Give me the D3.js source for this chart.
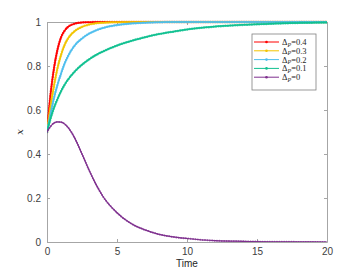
<!DOCTYPE html>
<html>
<head>
<meta charset="utf-8">
<script src="https://cdn.jsdelivr.net/npm/d3@7"></script>
<style>
  body { margin: 0; background: #fff; }
  svg { display: block; }
</style>
</head>
<body>
<svg id="chart" width="355" height="280"></svg>
<script>
// time grid the values were read at
var timeGrid = [0, 0.25, 0.5, 0.75, 1, 1.25, 1.5, 2, 2.5, 3, 3.5, 4, 5, 6, 7, 8, 9, 10, 12, 14, 16, 18, 20]

var dp04 = [0.5, 0.67, 0.79, 0.875, 0.93, 0.96, 0.978, 0.993, 0.998, 0.999, 1, 1, 1, 1, 1, 1, 1, 1, 1, 1, 1, 1, 1]
var dp03 = [0.5, 0.615, 0.71, 0.79, 0.85, 0.895, 0.925, 0.96, 0.978, 0.988, 0.994, 0.997, 0.999, 1, 1, 1, 1, 1, 1, 1, 1, 1, 1]
var dp02 = [0.5, 0.58, 0.655, 0.715, 0.765, 0.81, 0.845, 0.895, 0.925, 0.947, 0.962, 0.973, 0.986, 0.993, 0.997, 0.999, 1, 1, 1, 1, 1, 1, 1]
var dp01 = [0.5, 0.56, 0.61, 0.65, 0.685, 0.714, 0.738, 0.776, 0.806, 0.83, 0.85, 0.866, 0.893, 0.914, 0.931, 0.945, 0.956, 0.966, 0.979, 0.987, 0.992, 0.996, 0.998]
var dp00 = [0.5, 0.525, 0.541, 0.546, 0.545, 0.537, 0.521, 0.47, 0.4, 0.327, 0.262, 0.207, 0.133, 0.084, 0.055, 0.035, 0.023, 0.016, 0.006, 0.003, 0.001, 0.0005, 0]

var seriesNames = ['0.4', '0.3', '0.2', '0.1', '0']
var seriesColors = ['#ff0000', '#f2c400', '#4dbeee', '#10c090', '#7e2f8e']
var seriesValues = [dp04, dp03, dp02, dp01, dp00]

var xTicks = [0, 5, 10, 15, 20]
var yTicks = [0, 0.2, 0.4, 0.6, 0.8, 1]

var W = 355, H = 280
var m = {left: 47, right: 28, top: 22, bottom: 38}

var svg = d3.select('#chart')
var x = d3.scaleLinear().domain([0, 20]).range([m.left, W - m.right])
var y = d3.scaleLinear().domain([0, 1]).range([H - m.bottom, m.top])

svg.append('clipPath').attr('id', 'clip')
  .append('rect')
  .attr('x', m.left).attr('y', m.top - 2)
  .attr('width', x(20) - m.left).attr('height', y(0) - m.top + 2)

var axisCol = '#a6a6a6'
var tickCol = '#404040'

function styleAxis(g) {
  g.select('.domain').attr('stroke', axisCol)
  g.selectAll('.tick line').attr('stroke', axisCol)
  g.selectAll('.tick text').attr('fill', tickCol)
    .style('font-family', 'Liberation Sans, Arial, sans-serif').style('font-size', '10px')
}

svg.append('g').attr('transform', 'translate(0,' + y(0) + ')')
  .call(d3.axisBottom(x).tickValues(xTicks).tickSize(-3).tickPadding(6).tickSizeOuter(0))
  .call(styleAxis)
svg.append('g').attr('transform', 'translate(0,' + y(1) + ')')
  .call(d3.axisTop(x).tickValues(xTicks).tickSize(-3).tickFormat('').tickSizeOuter(0))
  .call(styleAxis)
svg.append('g').attr('transform', 'translate(' + x(0) + ',0)')
  .call(d3.axisLeft(y).tickValues(yTicks).tickSize(-3).tickPadding(6).tickSizeOuter(0)
    .tickFormat(function(d) { return d == 0 || d == 1 ? d : d3.format('.1f')(d) }))
  .call(styleAxis)
svg.append('g').attr('transform', 'translate(' + x(20) + ',0)')
  .call(d3.axisRight(y).tickValues(yTicks).tickSize(-3).tickFormat('').tickSizeOuter(0))
  .call(styleAxis)

var line = d3.line()
  .x(function(d) { return x(d[0]) })
  .y(function(d) { return y(d[1]) })
  .curve(d3.curveMonotoneX)

var plot = svg.append('g').attr('clip-path', 'url(#clip)')
seriesValues.forEach(function(vals, i) {
  var pts = timeGrid.map(function(t, k) { return [t, vals[k]] })
  plot.append('path').datum(pts)
    .attr('d', line).attr('fill', 'none')
    .attr('stroke', seriesColors[i]).attr('stroke-width', i == 4 ? 1.2 : 1.5)
  // dense markers
  plot.append('path').datum(pts)
    .attr('d', line).attr('fill', 'none')
    .attr('stroke', seriesColors[i]).attr('stroke-width', i == 4 ? 2 : 2.5)
    .attr('stroke-linecap', 'round').attr('stroke-dasharray', '0 2.4')
    .attr('opacity', 0.75)
})

// axis labels
svg.append('text').attr('x', x(10)).attr('y', H - 13)
  .attr('text-anchor', 'middle').attr('fill', '#262626')
  .style('font-family', 'Liberation Sans, Arial, sans-serif').style('font-size', '10px')
  .text('Time')
svg.append('text').attr('transform', 'translate(23,' + y(0.5) + ') rotate(-90)')
  .attr('text-anchor', 'middle').attr('fill', '#262626')
  .style('font-family', 'DejaVu Serif, serif').style('font-style', 'italic').style('font-size', '10px')
  .text('x')

// legend
var lg = svg.append('g')
lg.append('rect').attr('x', 252).attr('y', 34).attr('width', 64).attr('height', 56)
  .attr('fill', '#fff').attr('stroke', '#808080').attr('stroke-width', 0.8)
seriesNames.forEach(function(name, i) {
  var yy = 42 + i * 8.8
  lg.append('line').attr('x1', 254).attr('x2', 279).attr('y1', yy).attr('y2', yy)
    .attr('stroke', seriesColors[i]).attr('stroke-width', 1)
  lg.append('circle').attr('cx', 266.5).attr('cy', yy).attr('r', 1.3).attr('fill', seriesColors[i])
  var t = lg.append('text').attr('x', 282).attr('y', yy + 3)
    .attr('fill', '#262626')
    .style('font-family', 'Liberation Serif, serif').style('font-size', '8.5px')
  t.append('tspan').text('Δ')
  t.append('tspan').attr('dy', 1.5).style('font-style', 'italic').style('font-size', '6px').text('P')
  t.append('tspan').attr('dy', -1.5).text('=' + name)
})
</script>
</body>
</html>
